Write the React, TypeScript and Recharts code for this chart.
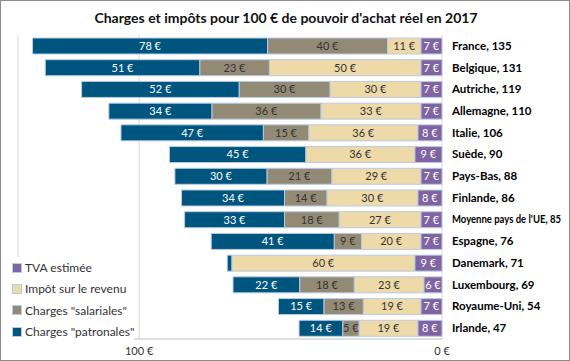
import React from "react";
import {
  Bar,
  BarChart,
  CartesianGrid,
  LabelList,
  XAxis,
  YAxis,
} from "recharts";

const countries = [
  "France",
  "Belgique",
  "Autriche",
  "Allemagne",
  "Italie",
  "Suède",
  "Pays-Bas",
  "Finlande",
  "Moyenne pays de l'UE",
  "Espagne",
  "Danemark",
  "Luxembourg",
  "Royaume-Uni",
  "Irlande",
];
const totals = [135, 131, 119, 110, 106, 90, 88, 86, 85, 76, 71, 69, 54, 47];
// values estimated from the bars, labels show them rounded
const tva = [7, 7, 7, 7, 8, 9, 7, 8, 7, 7, 9, 6, 7, 8];
const impot = [11, 50, 30, 33, 36, 36, 29.4, 30, 27, 19.6, 60.4, 23, 19, 19.4];
const salariales = [39.6, 23, 30, 36, 15, 0, 21.4, 14, 18, 9, 0, 18, 13, 5.4];
const patronales = [77.6, 51, 52, 34, 47, 45, 30.4, 34, 33, 40.6, 1.5, 22, 15, 14.4];
const xTicks = [0, 100];

// non-breaking spaces so recharts' Text does not wrap the labels
const NB = "\u00A0";

const data = countries.map((name, i) => ({
  name: `${name}, ${totals[i]}`,
  tva: tva[i],
  impot: impot[i],
  salariales: salariales[i],
  patronales: patronales[i],
}));

const FONT = "Lato, 'Noto Sans', sans-serif";

const series = [
  { key: "tva", label: "TVA estimée", color: "#8064A2", text: "#ffffff" },
  { key: "impot", label: "Impôt sur le revenu", color: "#EED9A8", text: "#333333" },
  { key: "salariales", label: 'Charges "salariales"', color: "#938A75", text: "#333333" },
  { key: "patronales", label: 'Charges "patronales"', color: "#00557F", text: "#ffffff" },
];

const fmt = (v: any) => (v >= 3 ? `${Math.round(v)}${NB}€` : "");

const CountryTick = (props: any) => {
  const { x, y, payload } = props;
  const long = payload.value.length > 16;
  return (
    <text
      x={x + 2}
      y={y}
      dy="0.35em"
      fontSize={long ? 11 : 11.5}
      fontWeight="bold"
      fontFamily={FONT}
      fill="#000"
      textAnchor="start"
      textLength={long ? 109 : undefined}
      lengthAdjust="spacingAndGlyphs"
    >
      {payload.value}
    </text>
  );
};

export default function App() {
  return (
    <div
      style={{
        position: "absolute",
        top: 0,
        left: 0,
        width: 570,
        height: 361,
        boxSizing: "border-box",
        border: "1px solid #8c8c8c",
        background: "#fff",
        fontFamily: FONT,
      }}
    >
      <div
        style={{
          position: "absolute",
          top: 8,
          left: 0,
          width: 570,
          textAlign: "center",
          fontWeight: "bold",
          fontSize: 14,
          color: "#111",
        }}
      >
        Charges et impôts pour 100 € de pouvoir d'achat réel en 2017
      </div>
      <BarChart
        width={568}
        height={359}
        data={data}
        layout="vertical"
        margin={{ top: 34, right: 0, left: 17, bottom: 0 }}
        barSize={16}
      >
        <CartesianGrid horizontal={false} stroke="#d9d9d9" />
        <XAxis
          type="number"
          domain={[0, 140]}
          ticks={xTicks}
          reversed
          height={21}
          tickLine={false}
          axisLine={{ stroke: "#bfbfbf" }}
          tick={{ fontSize: 11, fill: "#333", fontFamily: FONT }}
          tickFormatter={(v) => `${v}${NB}€`}
        />
        <YAxis
          type="category"
          dataKey="name"
          orientation="right"
          width={127}
          tickLine={false}
          axisLine={false}
          interval={0}
          tick={<CountryTick />}
        />
        {series.map((s) => (
          <Bar
            key={s.key}
            dataKey={s.key}
            name={s.label}
            stackId="a"
            fill={s.color}
            stroke="#b8cce4"
            strokeWidth={1}
            isAnimationActive={false}
          >
            <LabelList
              dataKey={s.key}
              position="center"
              formatter={fmt}
              style={{ fontSize: 11, fill: s.text, fontFamily: FONT }}
            />
          </Bar>
        ))}
      </BarChart>
      <div
        style={{
          position: "absolute",
          left: 11,
          top: 256,
          fontSize: 12,
          color: "#333",
          background: "#fff",
        }}
      >
        {series.map((s) => (
          <div key={s.key} style={{ display: "flex", alignItems: "center", height: 21.3 }}>
            <span
              style={{
                display: "inline-block",
                width: 8,
                height: 8,
                background: s.color,
                border: "1px solid #b8cce4",
                marginRight: 3,
              }}
            />
            {s.label}
          </div>
        ))}
      </div>
    </div>
  );
}
